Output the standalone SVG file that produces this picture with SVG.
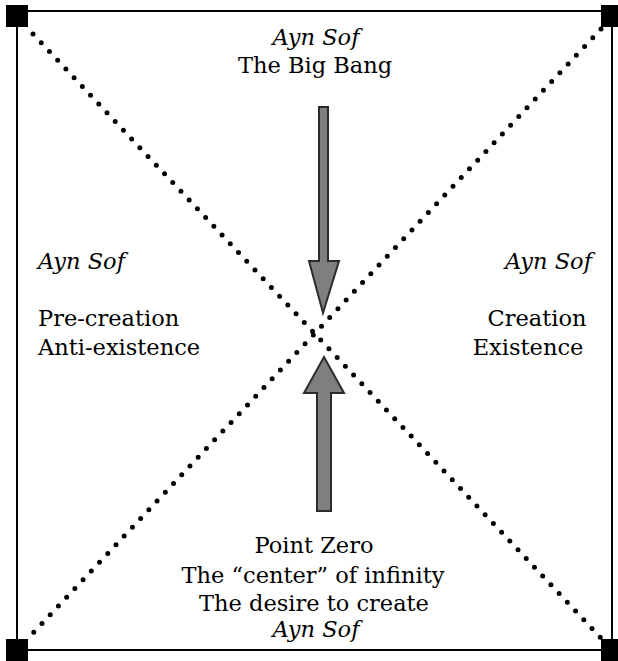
<svg xmlns="http://www.w3.org/2000/svg" width="618" height="661" viewBox="0 0 618 661">
<style>
.t{font-family:"DejaVu Serif","Liberation Serif",serif;font-size:22.5px;fill:#000}
.i{font-style:italic}
.dot{stroke:#000;stroke-width:5;stroke-linecap:round;stroke-dasharray:0 12;fill:none}
.arrow{fill:#7f7f7f;stroke:#2b2b2b;stroke-width:2;stroke-linejoin:miter}
</style>
<rect width="618" height="661" fill="#fff"/>
<g id="frame">
<rect x="17" y="11" width="595" height="639" fill="none" stroke="#000" stroke-width="2"/>
<rect x="6" y="5" width="22" height="22" fill="#000"/>
<rect x="601" y="5" width="22" height="22" fill="#000"/>
<rect x="6" y="639" width="22" height="22" fill="#000"/>
<rect x="601" y="639" width="22" height="22" fill="#000"/>
</g>
<g id="connectors">
<line class="dot" x1="33" y1="34" x2="601" y2="638"/>
<line class="dot" x1="601" y1="29" x2="33" y2="633"/>
<path id="arrow-down" class="arrow" d="M319,107 L328,107 L328,261 L339,261 L323,313 L309,261 L319,261 Z"/>
<path id="arrow-up" class="arrow" d="M324,357 L344,393 L331,393 L331,511 L317,511 L317,393 L304,393 Z"/>
</g>
<g id="top">
<text class="t i" x="316" y="45" text-anchor="middle">Ayn Sof</text>
<text class="t" x="315" y="73" text-anchor="middle">The Big Bang</text>
</g>
<g id="left">
<text class="t i" x="38" y="269">Ayn Sof</text>
<text class="t" x="38" y="326">Pre-creation</text>
<text class="t" x="38" y="355">Anti-existence</text>
</g>
<g id="right">
<text class="t i" x="592" y="269" text-anchor="end">Ayn Sof</text>
<text class="t" x="537" y="326" text-anchor="middle">Creation</text>
<text class="t" x="528" y="355" text-anchor="middle">Existence</text>
</g>
<g id="bottom">
<text class="t" x="314" y="553" text-anchor="middle">Point Zero</text>
<text class="t" x="313" y="583" text-anchor="middle">The “center” of infinity</text>
<text class="t" x="314" y="611" text-anchor="middle">The desire to create</text>
<text class="t i" x="316" y="637" text-anchor="middle">Ayn Sof</text>
</g>
</svg>
